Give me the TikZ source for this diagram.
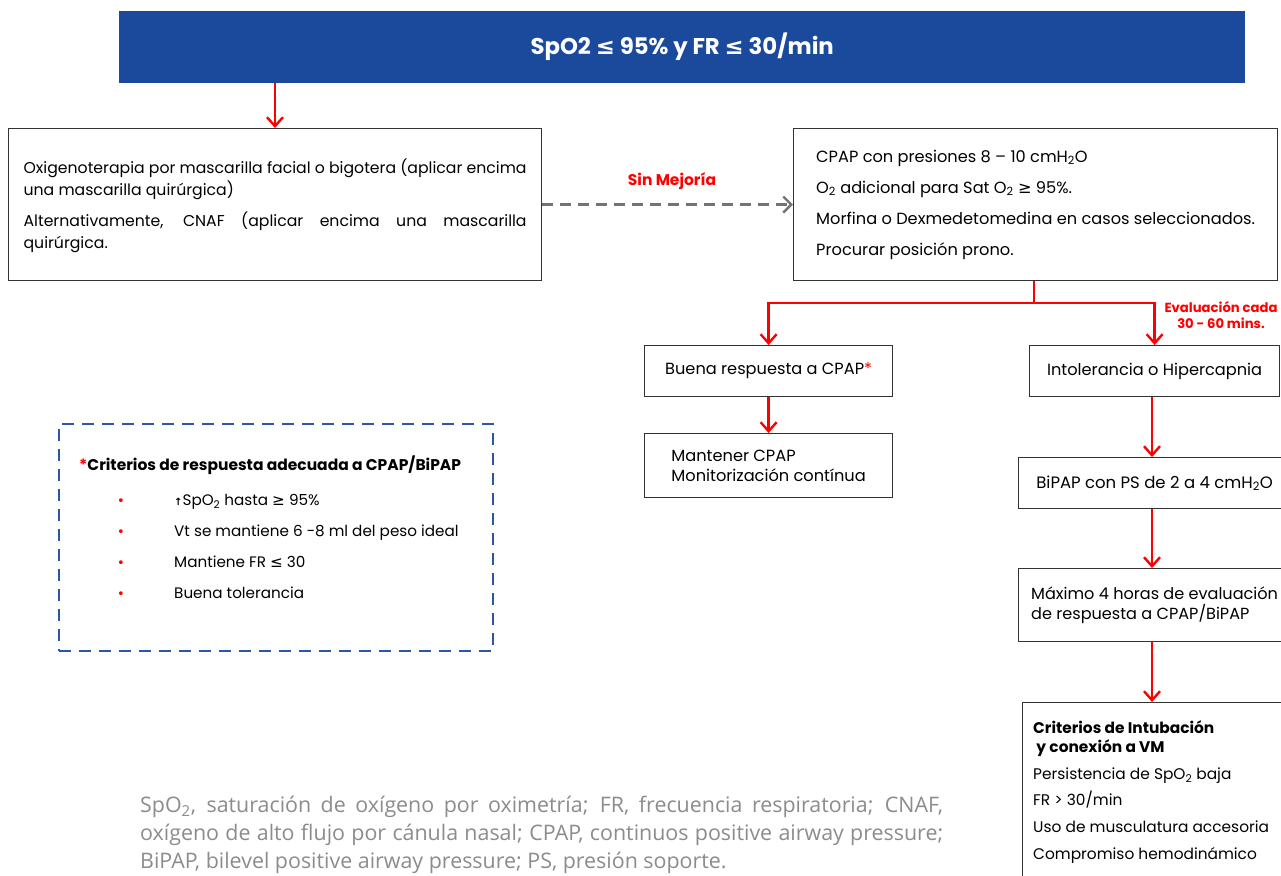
\documentclass[tikz,border=0pt]{standalone}
\usepackage{fontspec}
\setmainfont{Poppins}
\newfontfamily\symf{DejaVu Sans}
\newfontfamily\footf{Open Sans}
\usetikzlibrary{arrows.meta}
\definecolor{banner}{HTML}{1B4A9C}
\definecolor{myred}{HTML}{FF0000}
\definecolor{dashblue}{HTML}{2D57A6}
\definecolor{boxline}{HTML}{333333}
\definecolor{footgray}{HTML}{8C8C8C}
\newcommand{\mle}{{\symf ≤}}
\newcommand{\mge}{{\symf ≥}}
\newcommand{\subt}[1]{\textsubscript{#1}}
\newcommand{\rbul}{\textcolor{myred}{\symf\fontsize{13}{13}\selectfont •}}
\tikzset{
  box/.style={draw=boxline, line width=1.2pt, rectangle, inner sep=0pt, anchor=north west},
  redarrow/.style={draw=myred, line width=2.4pt, -{Straight Barb[length=9pt,width=16pt]}},
  redline/.style={draw=myred, line width=2.4pt},
  grayarrow/.style={draw=black!55, line width=2.4pt, dash pattern=on 11pt off 7pt, -{Straight Barb[length=8pt,width=16pt]}},
  txt/.style={font=\fontsize{16.2}{22}\selectfont},
}
\begin{document}
\begin{tikzpicture}[x=1pt,y=-1pt]
\clip (0,0) rectangle (1281,875);
\fill[white] (0,0) rectangle (1281,875);
% banner
\node[fill=banner, anchor=north west, minimum width=1126pt, minimum height=72pt, inner sep=0pt,
      text=white, font=\bfseries\fontsize{22.8}{26}\selectfont] (top) at (119,11)
  {SpO2 \mle{} 95\% y FR \mle{} 30/min};
\coordinate (c1) at (275,0);
% left box
\node[box, font=\fontsize{15.7}{22}\selectfont, minimum width=533pt, minimum height=152pt, align=left] (oxi) at (8,128)
  {\rule{0pt}{17pt}Oxigenoterapia por mascarilla facial o bigotera (aplicar encima\\
   una mascarilla quirúrgica)\\[9pt]
   \makebox[503pt][s]{Alternativamente, CNAF (aplicar encima una mascarilla}\\
   quirúrgica.};
\draw[redarrow] (top.south -| c1) -- (oxi.north -| c1);
% CPAP box
\node[box, txt, minimum width=484pt, minimum height=152pt, align=left] (cpap) at (793,128)
  {CPAP con presiones 8 – 10 cmH\subt{2}O\\[9pt]
   O\subt{2} adicional para Sat O\subt{2} \mge{} 95\%.\\[9pt]
   Morfina o Dexmedetomedina en casos seleccionados.\\[9pt]
   Procurar posición prono.};
\draw[grayarrow] (oxi.east) -- (cpap.west);
\node[text=myred, font=\bfseries\fontsize{15.5}{18}\selectfont] (sinmej) at (672,181) {Sin Mejoría};
% split
\coordinate (s) at (1034,303);
\node[box, txt, minimum width=248pt, minimum height=51pt] (buena) at (644,345)
  {Buena respuesta a CPAP\textcolor{myred}{*}};
\node[box, txt, minimum width=250pt, minimum height=51pt] (intol) at (1029,345)
  {Intolerancia o Hipercapnia};
\draw[redline] (cpap.south -| s) -- (s);
\draw[redarrow] (s) -| (buena.north);
\draw[redarrow] (s) -| (intol.north);
\node[text=myred, font=\bfseries\fontsize{13.2}{16}\selectfont, align=center] (eval) at (1221,315)
  {Evaluación cada\\30 - 60 mins.};
% Mantener
\node[box, minimum width=248pt, minimum height=64pt, align=left, font=\fontsize{16.2}{20}\selectfont] (mant) at (644,433)
  {Mantener CPAP\\Monitorización contínua};
\draw[redarrow] (buena.south) -- (mant.north);
% BiPAP
\node[box, minimum width=272pt, minimum height=51pt, font=\fontsize{16.5}{22}\selectfont] (bipap) at (1018,457)
  {BiPAP con PS de 2 a 4 cmH\subt{2}O};
\coordinate (c2) at (1152,0);
\draw[redarrow] (intol.south -| c2) -- (bipap.north -| c2);
\node[box, minimum width=272pt, minimum height=73pt, align=left, font=\fontsize{16.1}{20}\selectfont] (maxi) at (1018,568)
  {Máximo 4 horas de evaluación\\de respuesta a CPAP/BiPAP};
\draw[redarrow] (bipap.south -| c2) -- (maxi.north -| c2);
\node[box, minimum width=272pt, minimum height=200pt] (crit) at (1022,702) {};
\draw[redarrow] (maxi.south -| c2) -- (crit.north -| c2);
\node[anchor=north west, inner sep=0pt, align=left, font=\fontsize{15.4}{19}\selectfont] (crittxt) at (1033,720)
  {\textbf{Criterios de Intubación}\\
   \textbf{\ y conexión a VM}\\[8pt]
   Persistencia de SpO\subt{2} baja\\[7pt]
   FR > 30/min\\[8pt]
   Uso de musculatura accesoria\\[8pt]
   Compromiso hemodinámico};
% dashed criteria box
\node[box, draw=dashblue, line width=2.2pt, dash pattern=on 12pt off 8pt, minimum width=434pt, minimum height=227pt] (resp) at (58,423) {};
\node[anchor=north west, inner sep=0pt, align=left, font=\fontsize{15.2}{19}\selectfont] (resptxt) at (79,456)
  {{\fontsize{15.5}{19}\selectfont\textcolor{myred}{\textbf{*}}\textbf{Criterios de respuesta adecuada a CPAP/BiPAP}}\\[16pt]
   \hspace*{38pt}\makebox[57pt][l]{\rbul}{\symf\fontsize{10}{10}\selectfont\textbf{↑}}SpO\subt{2} hasta \mge{} 95\%\\[12pt]
   \hspace*{38pt}\makebox[57pt][l]{\rbul}Vt se mantiene 6 -8 ml del peso ideal\\[12pt]
   \hspace*{38pt}\makebox[57pt][l]{\rbul}Mantiene FR \mle{} 30\\[12pt]
   \hspace*{38pt}\makebox[57pt][l]{\rbul}Buena tolerancia};
% footnote
\node[anchor=north west, inner sep=0pt, align=left, text=footgray, font=\footf\fontsize{21.4}{28}\selectfont] (foot) at (140,796)
  {\makebox[803pt][s]{SpO\subt{2}, saturación de oxígeno por oximetría; FR, frecuencia respiratoria; CNAF,}\\
   \makebox[803pt][s]{oxígeno de alto flujo por cánula nasal; CPAP, continuos positive airway pressure;}\\
   BiPAP, bilevel positive airway pressure; PS, presión soporte.};
\end{tikzpicture}
\end{document}
